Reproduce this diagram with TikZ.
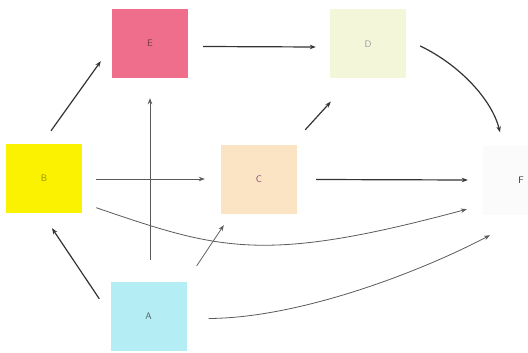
\documentclass[tikz,border=0pt]{standalone}
\usetikzlibrary{arrows.meta}
\definecolor{cE}{HTML}{EE6E8C}
\definecolor{cD}{HTML}{F4F6DA}
\definecolor{cB}{HTML}{FAF200}
\definecolor{cC}{HTML}{FBE4C4}
\definecolor{cF}{HTML}{FBFBFB}
\definecolor{cA}{HTML}{B4EEF4}
\definecolor{darkln}{HTML}{333333}
\definecolor{grayln}{HTML}{5A5A5A}
\begin{document}
\begin{tikzpicture}[x=1pt,y=-1pt,
  box/.style={minimum width=76pt,minimum height=69pt,inner sep=0pt,font=\sffamily\fontsize{9.5}{10}\selectfont},
  dk/.style={draw=darkln,line width=1.2pt,-{Stealth[length=6pt,width=4.5pt]}},
  lt/.style={draw=grayln,line width=0.8pt,-{Stealth[length=6pt,width=4.5pt]}}]
\useasboundingbox (0,0) rectangle (528,353);
\node[box,fill=cE,text=cE!50!black] (E) at (150,43.5) {E};
\node[box,fill=cD,text=black!40] (D) at (368,44) {D};
\node[box,fill=cB,text=cB!60!black] (B) at (44,178.5) {B};
\node[box,fill=cC,text=cC!40!black!80!magenta] (C) at (259,179.5) {C};
\node[box,fill=cF,text=black!80] (F) at (521,180) {F};
\node[box,fill=cA,text=cA!40!black] (A) at (148.5,316.5) {A};
% connectors
\draw[dk] ([shift={(15,3)}]E.east) -- ([shift={(-14,3)}]D.west);
\draw[dk] ([shift={(14,2)}]D.east) .. controls (460,65) and (492,100) .. ([shift={(-21,-13)}]F.north);
\draw[dk] ([shift={(7,-13)}]B.north) -- ([shift={(-11,-17)}]E.south west);
\draw[dk] ([shift={(-11,17)}]A.north west) -- ([shift={(8,15)}]B.south);
\draw[lt] ([shift={(1.5,-22)}]A.north) -- ([shift={(0,20)}]E.south);
\draw[lt] ([shift={(14,0.5)}]B.east) -- ([shift={(-16,-0.5)}]C.west);
\draw[dk] ([shift={(8,-15)}]C.north east) -- ([shift={(1,23)}]D.south west);
\draw[lt] ([shift={(10,-16)}]A.north east) -- ([shift={(3,11)}]C.south west);
\draw[dk] ([shift={(19,0)}]C.east) -- ([shift={(-15,0)}]F.west);
\draw[lt] ([shift={(14,-5.5)}]B.south east) .. controls (220,250) and (263,264) .. ([shift={(-16,-5.5)}]F.south west);
\draw[lt] ([shift={(22,2)}]A.east) .. controls (300,318) and (420,272) .. ([shift={(-31,20.5)}]F.south);
\end{tikzpicture}
\end{document}
